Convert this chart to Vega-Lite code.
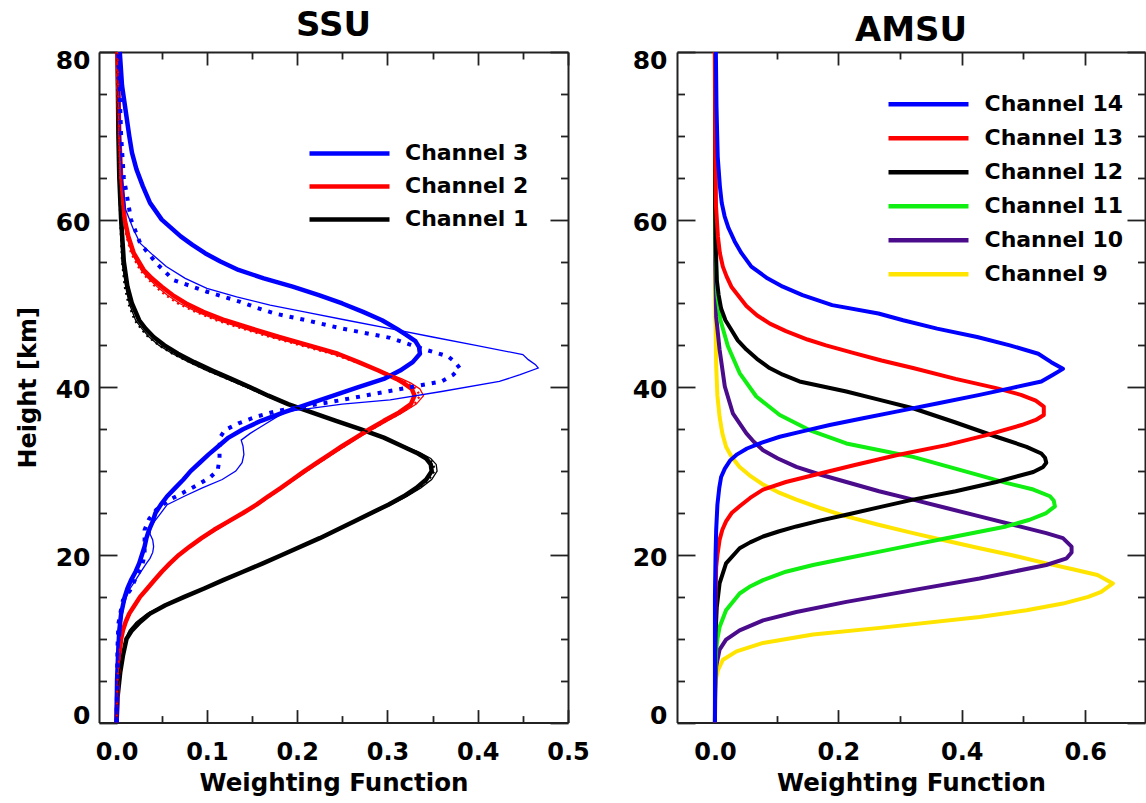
{
"$schema": "https://vega.github.io/schema/vega-lite/v6.json",
"background": "white",
"padding": {"left": 16, "top": 9, "right": 0, "bottom": 5},
"bounds": "flush",
"spacing": 109,
"datasets": {
"ssu": [
{"c":"Channel 1","k":"thick","H":0,"W":0},{"c":"Channel 1","k":"thick","H":3,"W":0.001},{"c":"Channel 1","k":"thick","H":6,"W":0.004},{"c":"Channel 1","k":"thick","H":8,"W":0.007},{"c":"Channel 1","k":"thick","H":10,"W":0.011},{"c":"Channel 1","k":"thick","H":11,"W":0.017},{"c":"Channel 1","k":"thick","H":12,"W":0.026},{"c":"Channel 1","k":"thick","H":13,"W":0.037},{"c":"Channel 1","k":"thick","H":14,"W":0.054},{"c":"Channel 1","k":"thick","H":15,"W":0.075},{"c":"Channel 1","k":"thick","H":16,"W":0.097},{"c":"Channel 1","k":"thick","H":17,"W":0.118},{"c":"Channel 1","k":"thick","H":18,"W":0.14},{"c":"Channel 1","k":"thick","H":19,"W":0.162},{"c":"Channel 1","k":"thick","H":20,"W":0.183},{"c":"Channel 1","k":"thick","H":22,"W":0.225},{"c":"Channel 1","k":"thick","H":24,"W":0.263},{"c":"Channel 1","k":"thick","H":26,"W":0.301},{"c":"Channel 1","k":"thick","H":27,"W":0.318},{"c":"Channel 1","k":"thick","H":28,"W":0.332},{"c":"Channel 1","k":"thick","H":29,"W":0.343},{"c":"Channel 1","k":"thick","H":30,"W":0.349},{"c":"Channel 1","k":"thick","H":30.8,"W":0.348},{"c":"Channel 1","k":"thick","H":31.5,"W":0.343},{"c":"Channel 1","k":"thick","H":32.2,"W":0.332},{"c":"Channel 1","k":"thick","H":33,"W":0.316},{"c":"Channel 1","k":"thick","H":34,"W":0.296},{"c":"Channel 1","k":"thick","H":35,"W":0.27},{"c":"Channel 1","k":"thick","H":36,"W":0.243},{"c":"Channel 1","k":"thick","H":37,"W":0.216},{"c":"Channel 1","k":"thick","H":38,"W":0.19},{"c":"Channel 1","k":"thick","H":39,"W":0.168},{"c":"Channel 1","k":"thick","H":40,"W":0.148},{"c":"Channel 1","k":"thick","H":41,"W":0.127},{"c":"Channel 1","k":"thick","H":42,"W":0.106},{"c":"Channel 1","k":"thick","H":43,"W":0.086},{"c":"Channel 1","k":"thick","H":44,"W":0.068},{"c":"Channel 1","k":"thick","H":45,"W":0.053},{"c":"Channel 1","k":"thick","H":46,"W":0.041},{"c":"Channel 1","k":"thick","H":47,"W":0.032},{"c":"Channel 1","k":"thick","H":48,"W":0.025},{"c":"Channel 1","k":"thick","H":50,"W":0.017},{"c":"Channel 1","k":"thick","H":52,"W":0.012},{"c":"Channel 1","k":"thick","H":55,"W":0.008},{"c":"Channel 1","k":"thick","H":60,"W":0.005},{"c":"Channel 1","k":"thick","H":65,"W":0.003},{"c":"Channel 1","k":"thick","H":70,"W":0.002},{"c":"Channel 1","k":"thick","H":80,"W":0.001},
{"c":"Channel 2","k":"thick","H":0,"W":0},{"c":"Channel 2","k":"thick","H":5,"W":0.001},{"c":"Channel 2","k":"thick","H":8,"W":0.003},{"c":"Channel 2","k":"thick","H":10,"W":0.005},{"c":"Channel 2","k":"thick","H":11,"W":0.007},{"c":"Channel 2","k":"thick","H":12,"W":0.01},{"c":"Channel 2","k":"thick","H":13,"W":0.014},{"c":"Channel 2","k":"thick","H":14,"W":0.02},{"c":"Channel 2","k":"thick","H":15,"W":0.026},{"c":"Channel 2","k":"thick","H":16,"W":0.034},{"c":"Channel 2","k":"thick","H":17,"W":0.042},{"c":"Channel 2","k":"thick","H":18,"W":0.05},{"c":"Channel 2","k":"thick","H":19,"W":0.059},{"c":"Channel 2","k":"thick","H":20,"W":0.069},{"c":"Channel 2","k":"thick","H":21,"W":0.081},{"c":"Channel 2","k":"thick","H":22,"W":0.094},{"c":"Channel 2","k":"thick","H":23,"W":0.108},{"c":"Channel 2","k":"thick","H":24,"W":0.124},{"c":"Channel 2","k":"thick","H":25,"W":0.14},{"c":"Channel 2","k":"thick","H":26,"W":0.155},{"c":"Channel 2","k":"thick","H":27,"W":0.168},{"c":"Channel 2","k":"thick","H":28,"W":0.182},{"c":"Channel 2","k":"thick","H":29,"W":0.195},{"c":"Channel 2","k":"thick","H":30,"W":0.208},{"c":"Channel 2","k":"thick","H":31,"W":0.222},{"c":"Channel 2","k":"thick","H":32,"W":0.236},{"c":"Channel 2","k":"thick","H":33,"W":0.25},{"c":"Channel 2","k":"thick","H":34,"W":0.265},{"c":"Channel 2","k":"thick","H":35,"W":0.28},{"c":"Channel 2","k":"thick","H":36,"W":0.296},{"c":"Channel 2","k":"thick","H":37,"W":0.313},{"c":"Channel 2","k":"thick","H":38,"W":0.326},{"c":"Channel 2","k":"thick","H":39,"W":0.33},{"c":"Channel 2","k":"thick","H":39.8,"W":0.327},{"c":"Channel 2","k":"thick","H":40.5,"W":0.318},{"c":"Channel 2","k":"thick","H":41,"W":0.31},{"c":"Channel 2","k":"thick","H":42,"W":0.29},{"c":"Channel 2","k":"thick","H":43,"W":0.268},{"c":"Channel 2","k":"thick","H":44,"W":0.245},{"c":"Channel 2","k":"thick","H":45,"W":0.213},{"c":"Channel 2","k":"thick","H":46,"W":0.18},{"c":"Channel 2","k":"thick","H":47,"W":0.15},{"c":"Channel 2","k":"thick","H":48,"W":0.12},{"c":"Channel 2","k":"thick","H":49,"W":0.096},{"c":"Channel 2","k":"thick","H":50,"W":0.077},{"c":"Channel 2","k":"thick","H":51,"W":0.062},{"c":"Channel 2","k":"thick","H":52,"W":0.05},{"c":"Channel 2","k":"thick","H":53,"W":0.039},{"c":"Channel 2","k":"thick","H":54,"W":0.03},{"c":"Channel 2","k":"thick","H":56,"W":0.019},{"c":"Channel 2","k":"thick","H":58,"W":0.013},{"c":"Channel 2","k":"thick","H":60,"W":0.009},{"c":"Channel 2","k":"thick","H":65,"W":0.005},{"c":"Channel 2","k":"thick","H":70,"W":0.003},{"c":"Channel 2","k":"thick","H":80,"W":0.001},
{"c":"Channel 3","k":"thick","H":0,"W":0},{"c":"Channel 3","k":"thick","H":5,"W":0.0005},{"c":"Channel 3","k":"thick","H":9,"W":0.002},{"c":"Channel 3","k":"thick","H":11,"W":0.003},{"c":"Channel 3","k":"thick","H":13,"W":0.005},{"c":"Channel 3","k":"thick","H":15,"W":0.009},{"c":"Channel 3","k":"thick","H":16,"W":0.012},{"c":"Channel 3","k":"thick","H":17,"W":0.016},{"c":"Channel 3","k":"thick","H":18,"W":0.021},{"c":"Channel 3","k":"thick","H":19,"W":0.025},{"c":"Channel 3","k":"thick","H":20,"W":0.028},{"c":"Channel 3","k":"thick","H":21,"W":0.031},{"c":"Channel 3","k":"thick","H":22,"W":0.033},{"c":"Channel 3","k":"thick","H":23,"W":0.036},{"c":"Channel 3","k":"thick","H":24,"W":0.04},{"c":"Channel 3","k":"thick","H":25,"W":0.043},{"c":"Channel 3","k":"thick","H":26,"W":0.049},{"c":"Channel 3","k":"thick","H":27,"W":0.056},{"c":"Channel 3","k":"thick","H":28,"W":0.065},{"c":"Channel 3","k":"thick","H":29,"W":0.074},{"c":"Channel 3","k":"thick","H":30,"W":0.082},{"c":"Channel 3","k":"thick","H":31,"W":0.092},{"c":"Channel 3","k":"thick","H":32,"W":0.102},{"c":"Channel 3","k":"thick","H":33,"W":0.113},{"c":"Channel 3","k":"thick","H":34,"W":0.124},{"c":"Channel 3","k":"thick","H":35,"W":0.14},{"c":"Channel 3","k":"thick","H":36,"W":0.16},{"c":"Channel 3","k":"thick","H":37,"W":0.185},{"c":"Channel 3","k":"thick","H":38,"W":0.212},{"c":"Channel 3","k":"thick","H":39,"W":0.24},{"c":"Channel 3","k":"thick","H":40,"W":0.267},{"c":"Channel 3","k":"thick","H":41,"W":0.296},{"c":"Channel 3","k":"thick","H":42,"W":0.314},{"c":"Channel 3","k":"thick","H":43,"W":0.328},{"c":"Channel 3","k":"thick","H":44,"W":0.336},{"c":"Channel 3","k":"thick","H":44.8,"W":0.335},{"c":"Channel 3","k":"thick","H":45.5,"W":0.331},{"c":"Channel 3","k":"thick","H":46.3,"W":0.32},{"c":"Channel 3","k":"thick","H":47,"W":0.31},{"c":"Channel 3","k":"thick","H":48,"W":0.294},{"c":"Channel 3","k":"thick","H":49,"W":0.273},{"c":"Channel 3","k":"thick","H":50,"W":0.25},{"c":"Channel 3","k":"thick","H":51,"W":0.224},{"c":"Channel 3","k":"thick","H":52,"W":0.195},{"c":"Channel 3","k":"thick","H":53,"W":0.163},{"c":"Channel 3","k":"thick","H":54,"W":0.135},{"c":"Channel 3","k":"thick","H":55,"W":0.115},{"c":"Channel 3","k":"thick","H":56,"W":0.098},{"c":"Channel 3","k":"thick","H":57,"W":0.084},{"c":"Channel 3","k":"thick","H":58,"W":0.071},{"c":"Channel 3","k":"thick","H":60,"W":0.05},{"c":"Channel 3","k":"thick","H":62,"W":0.037},{"c":"Channel 3","k":"thick","H":64,"W":0.029},{"c":"Channel 3","k":"thick","H":66,"W":0.022},{"c":"Channel 3","k":"thick","H":68,"W":0.017},{"c":"Channel 3","k":"thick","H":70,"W":0.014},{"c":"Channel 3","k":"thick","H":73,"W":0.01},{"c":"Channel 3","k":"thick","H":76,"W":0.006},{"c":"Channel 3","k":"thick","H":80,"W":0.0035},
{"c":"Channel 1","k":"thin","H":0,"W":0},{"c":"Channel 1","k":"thin","H":3,"W":0.001},{"c":"Channel 1","k":"thin","H":6,"W":0.003},{"c":"Channel 1","k":"thin","H":8,"W":0.006},{"c":"Channel 1","k":"thin","H":10,"W":0.01},{"c":"Channel 1","k":"thin","H":11,"W":0.014},{"c":"Channel 1","k":"thin","H":12,"W":0.022},{"c":"Channel 1","k":"thin","H":13,"W":0.034},{"c":"Channel 1","k":"thin","H":14,"W":0.052},{"c":"Channel 1","k":"thin","H":15,"W":0.074},{"c":"Channel 1","k":"thin","H":16,"W":0.096},{"c":"Channel 1","k":"thin","H":18,"W":0.14},{"c":"Channel 1","k":"thin","H":20,"W":0.184},{"c":"Channel 1","k":"thin","H":22,"W":0.226},{"c":"Channel 1","k":"thin","H":24,"W":0.265},{"c":"Channel 1","k":"thin","H":26,"W":0.304},{"c":"Channel 1","k":"thin","H":27,"W":0.322},{"c":"Channel 1","k":"thin","H":28,"W":0.337},{"c":"Channel 1","k":"thin","H":29,"W":0.349},{"c":"Channel 1","k":"thin","H":30,"W":0.355},{"c":"Channel 1","k":"thin","H":30.8,"W":0.354},{"c":"Channel 1","k":"thin","H":31.5,"W":0.348},{"c":"Channel 1","k":"thin","H":32.2,"W":0.336},{"c":"Channel 1","k":"thin","H":33,"W":0.318},{"c":"Channel 1","k":"thin","H":34,"W":0.296},{"c":"Channel 1","k":"thin","H":35,"W":0.27},{"c":"Channel 1","k":"thin","H":36,"W":0.242},{"c":"Channel 1","k":"thin","H":37,"W":0.214},{"c":"Channel 1","k":"thin","H":38,"W":0.188},{"c":"Channel 1","k":"thin","H":39,"W":0.165},{"c":"Channel 1","k":"thin","H":40,"W":0.144},{"c":"Channel 1","k":"thin","H":41,"W":0.122},{"c":"Channel 1","k":"thin","H":42,"W":0.1},{"c":"Channel 1","k":"thin","H":43,"W":0.08},{"c":"Channel 1","k":"thin","H":44,"W":0.062},{"c":"Channel 1","k":"thin","H":45,"W":0.047},{"c":"Channel 1","k":"thin","H":46,"W":0.036},{"c":"Channel 1","k":"thin","H":47,"W":0.028},{"c":"Channel 1","k":"thin","H":48,"W":0.021},{"c":"Channel 1","k":"thin","H":50,"W":0.014},{"c":"Channel 1","k":"thin","H":52,"W":0.01},{"c":"Channel 1","k":"thin","H":55,"W":0.006},{"c":"Channel 1","k":"thin","H":60,"W":0.004},{"c":"Channel 1","k":"thin","H":65,"W":0.002},{"c":"Channel 1","k":"thin","H":70,"W":0.0015},{"c":"Channel 1","k":"thin","H":80,"W":0.001},
{"c":"Channel 2","k":"thin","H":0,"W":0},{"c":"Channel 2","k":"thin","H":5,"W":0.001},{"c":"Channel 2","k":"thin","H":8,"W":0.003},{"c":"Channel 2","k":"thin","H":10,"W":0.005},{"c":"Channel 2","k":"thin","H":12,"W":0.01},{"c":"Channel 2","k":"thin","H":14,"W":0.02},{"c":"Channel 2","k":"thin","H":16,"W":0.034},{"c":"Channel 2","k":"thin","H":18,"W":0.051},{"c":"Channel 2","k":"thin","H":20,"W":0.07},{"c":"Channel 2","k":"thin","H":22,"W":0.096},{"c":"Channel 2","k":"thin","H":24,"W":0.126},{"c":"Channel 2","k":"thin","H":26,"W":0.157},{"c":"Channel 2","k":"thin","H":28,"W":0.184},{"c":"Channel 2","k":"thin","H":30,"W":0.211},{"c":"Channel 2","k":"thin","H":32,"W":0.239},{"c":"Channel 2","k":"thin","H":34,"W":0.268},{"c":"Channel 2","k":"thin","H":35,"W":0.284},{"c":"Channel 2","k":"thin","H":36,"W":0.3},{"c":"Channel 2","k":"thin","H":37,"W":0.317},{"c":"Channel 2","k":"thin","H":38,"W":0.332},{"c":"Channel 2","k":"thin","H":39,"W":0.34},{"c":"Channel 2","k":"thin","H":39.8,"W":0.336},{"c":"Channel 2","k":"thin","H":40.5,"W":0.326},{"c":"Channel 2","k":"thin","H":41,"W":0.316},{"c":"Channel 2","k":"thin","H":42,"W":0.292},{"c":"Channel 2","k":"thin","H":43,"W":0.267},{"c":"Channel 2","k":"thin","H":44,"W":0.24},{"c":"Channel 2","k":"thin","H":45,"W":0.206},{"c":"Channel 2","k":"thin","H":46,"W":0.172},{"c":"Channel 2","k":"thin","H":47,"W":0.141},{"c":"Channel 2","k":"thin","H":48,"W":0.112},{"c":"Channel 2","k":"thin","H":49,"W":0.089},{"c":"Channel 2","k":"thin","H":50,"W":0.07},{"c":"Channel 2","k":"thin","H":51,"W":0.056},{"c":"Channel 2","k":"thin","H":52,"W":0.045},{"c":"Channel 2","k":"thin","H":53,"W":0.035},{"c":"Channel 2","k":"thin","H":54,"W":0.027},{"c":"Channel 2","k":"thin","H":56,"W":0.017},{"c":"Channel 2","k":"thin","H":58,"W":0.011},{"c":"Channel 2","k":"thin","H":60,"W":0.008},{"c":"Channel 2","k":"thin","H":65,"W":0.004},{"c":"Channel 2","k":"thin","H":70,"W":0.0025},{"c":"Channel 2","k":"thin","H":80,"W":0.001},
{"c":"Channel 3","k":"thin","H":0,"W":0},{"c":"Channel 3","k":"thin","H":5,"W":0.0005},{"c":"Channel 3","k":"thin","H":9,"W":0.002},{"c":"Channel 3","k":"thin","H":12,"W":0.005},{"c":"Channel 3","k":"thin","H":14,"W":0.008},{"c":"Channel 3","k":"thin","H":15,"W":0.011},{"c":"Channel 3","k":"thin","H":16,"W":0.015},{"c":"Channel 3","k":"thin","H":17,"W":0.021},{"c":"Channel 3","k":"thin","H":18,"W":0.027},{"c":"Channel 3","k":"thin","H":19,"W":0.033},{"c":"Channel 3","k":"thin","H":19.6,"W":0.037},{"c":"Channel 3","k":"thin","H":20.3,"W":0.04},{"c":"Channel 3","k":"thin","H":21,"W":0.041},{"c":"Channel 3","k":"thin","H":21.8,"W":0.04},{"c":"Channel 3","k":"thin","H":22.5,"W":0.037},{"c":"Channel 3","k":"thin","H":23.3,"W":0.038},{"c":"Channel 3","k":"thin","H":24,"W":0.042},{"c":"Channel 3","k":"thin","H":25,"W":0.049},{"c":"Channel 3","k":"thin","H":26,"W":0.056},{"c":"Channel 3","k":"thin","H":27,"W":0.075},{"c":"Channel 3","k":"thin","H":28,"W":0.095},{"c":"Channel 3","k":"thin","H":29,"W":0.117},{"c":"Channel 3","k":"thin","H":30,"W":0.132},{"c":"Channel 3","k":"thin","H":31,"W":0.139},{"c":"Channel 3","k":"thin","H":32,"W":0.141},{"c":"Channel 3","k":"thin","H":33,"W":0.14},{"c":"Channel 3","k":"thin","H":33.7,"W":0.138},{"c":"Channel 3","k":"thin","H":34.5,"W":0.148},{"c":"Channel 3","k":"thin","H":35.5,"W":0.163},{"c":"Channel 3","k":"thin","H":36.5,"W":0.178},{"c":"Channel 3","k":"thin","H":37.1,"W":0.188},{"c":"Channel 3","k":"thin","H":38,"W":0.25},{"c":"Channel 3","k":"thin","H":38.5,"W":0.303},{"c":"Channel 3","k":"thin","H":39.5,"W":0.36},{"c":"Channel 3","k":"thin","H":40.7,"W":0.424},{"c":"Channel 3","k":"thin","H":41.5,"W":0.447},{"c":"Channel 3","k":"thin","H":42.3,"W":0.467},{"c":"Channel 3","k":"thin","H":42.7,"W":0.464},{"c":"Channel 3","k":"thin","H":43.3,"W":0.456},{"c":"Channel 3","k":"thin","H":43.9,"W":0.45},{"c":"Channel 3","k":"thin","H":45,"W":0.398},{"c":"Channel 3","k":"thin","H":46,"W":0.35},{"c":"Channel 3","k":"thin","H":47,"W":0.303},{"c":"Channel 3","k":"thin","H":48,"W":0.255},{"c":"Channel 3","k":"thin","H":49,"W":0.208},{"c":"Channel 3","k":"thin","H":49.8,"W":0.17},{"c":"Channel 3","k":"thin","H":50.8,"W":0.133},{"c":"Channel 3","k":"thin","H":51.8,"W":0.1},{"c":"Channel 3","k":"thin","H":53,"W":0.076},{"c":"Channel 3","k":"thin","H":54.4,"W":0.055},{"c":"Channel 3","k":"thin","H":55.8,"W":0.04},{"c":"Channel 3","k":"thin","H":57.2,"W":0.026},{"c":"Channel 3","k":"thin","H":59,"W":0.018},{"c":"Channel 3","k":"thin","H":61.2,"W":0.01},{"c":"Channel 3","k":"thin","H":65,"W":0.006},{"c":"Channel 3","k":"thin","H":70,"W":0.004},{"c":"Channel 3","k":"thin","H":80,"W":0.0025},
{"c":"Channel 1","k":"dotted","H":0,"W":0},{"c":"Channel 1","k":"dotted","H":5,"W":0.002},{"c":"Channel 1","k":"dotted","H":8,"W":0.006},{"c":"Channel 1","k":"dotted","H":10,"W":0.01},{"c":"Channel 1","k":"dotted","H":11,"W":0.015},{"c":"Channel 1","k":"dotted","H":12,"W":0.023},{"c":"Channel 1","k":"dotted","H":13,"W":0.035},{"c":"Channel 1","k":"dotted","H":14,"W":0.053},{"c":"Channel 1","k":"dotted","H":15,"W":0.074},{"c":"Channel 1","k":"dotted","H":16,"W":0.096},{"c":"Channel 1","k":"dotted","H":18,"W":0.14},{"c":"Channel 1","k":"dotted","H":20,"W":0.183},{"c":"Channel 1","k":"dotted","H":22,"W":0.225},{"c":"Channel 1","k":"dotted","H":24,"W":0.264},{"c":"Channel 1","k":"dotted","H":26,"W":0.302},{"c":"Channel 1","k":"dotted","H":27,"W":0.32},{"c":"Channel 1","k":"dotted","H":28,"W":0.335},{"c":"Channel 1","k":"dotted","H":29,"W":0.346},{"c":"Channel 1","k":"dotted","H":30,"W":0.352},{"c":"Channel 1","k":"dotted","H":30.8,"W":0.351},{"c":"Channel 1","k":"dotted","H":31.5,"W":0.346},{"c":"Channel 1","k":"dotted","H":32.2,"W":0.334},{"c":"Channel 1","k":"dotted","H":33,"W":0.317},{"c":"Channel 1","k":"dotted","H":34,"W":0.296},{"c":"Channel 1","k":"dotted","H":35,"W":0.27},{"c":"Channel 1","k":"dotted","H":36,"W":0.242},{"c":"Channel 1","k":"dotted","H":37,"W":0.215},{"c":"Channel 1","k":"dotted","H":38,"W":0.189},{"c":"Channel 1","k":"dotted","H":39,"W":0.166},{"c":"Channel 1","k":"dotted","H":40,"W":0.145},{"c":"Channel 1","k":"dotted","H":41,"W":0.123},{"c":"Channel 1","k":"dotted","H":42,"W":0.101},{"c":"Channel 1","k":"dotted","H":43,"W":0.081},{"c":"Channel 1","k":"dotted","H":44,"W":0.062},{"c":"Channel 1","k":"dotted","H":45,"W":0.047},{"c":"Channel 1","k":"dotted","H":46,"W":0.035},{"c":"Channel 1","k":"dotted","H":47,"W":0.027},{"c":"Channel 1","k":"dotted","H":48,"W":0.02},{"c":"Channel 1","k":"dotted","H":50,"W":0.013},{"c":"Channel 1","k":"dotted","H":52,"W":0.009},{"c":"Channel 1","k":"dotted","H":55,"W":0.006},{"c":"Channel 1","k":"dotted","H":60,"W":0.004},{"c":"Channel 1","k":"dotted","H":70,"W":0.0015},{"c":"Channel 1","k":"dotted","H":80,"W":0.001},
{"c":"Channel 2","k":"dotted","H":0,"W":0},{"c":"Channel 2","k":"dotted","H":5,"W":0.001},{"c":"Channel 2","k":"dotted","H":8,"W":0.003},{"c":"Channel 2","k":"dotted","H":10,"W":0.005},{"c":"Channel 2","k":"dotted","H":12,"W":0.01},{"c":"Channel 2","k":"dotted","H":14,"W":0.02},{"c":"Channel 2","k":"dotted","H":16,"W":0.034},{"c":"Channel 2","k":"dotted","H":18,"W":0.05},{"c":"Channel 2","k":"dotted","H":20,"W":0.069},{"c":"Channel 2","k":"dotted","H":22,"W":0.095},{"c":"Channel 2","k":"dotted","H":24,"W":0.125},{"c":"Channel 2","k":"dotted","H":26,"W":0.156},{"c":"Channel 2","k":"dotted","H":28,"W":0.183},{"c":"Channel 2","k":"dotted","H":30,"W":0.21},{"c":"Channel 2","k":"dotted","H":32,"W":0.238},{"c":"Channel 2","k":"dotted","H":34,"W":0.267},{"c":"Channel 2","k":"dotted","H":35,"W":0.283},{"c":"Channel 2","k":"dotted","H":36,"W":0.299},{"c":"Channel 2","k":"dotted","H":37,"W":0.316},{"c":"Channel 2","k":"dotted","H":38,"W":0.33},{"c":"Channel 2","k":"dotted","H":39,"W":0.336},{"c":"Channel 2","k":"dotted","H":39.8,"W":0.332},{"c":"Channel 2","k":"dotted","H":40.5,"W":0.322},{"c":"Channel 2","k":"dotted","H":41,"W":0.313},{"c":"Channel 2","k":"dotted","H":42,"W":0.29},{"c":"Channel 2","k":"dotted","H":43,"W":0.265},{"c":"Channel 2","k":"dotted","H":44,"W":0.238},{"c":"Channel 2","k":"dotted","H":45,"W":0.204},{"c":"Channel 2","k":"dotted","H":46,"W":0.17},{"c":"Channel 2","k":"dotted","H":47,"W":0.139},{"c":"Channel 2","k":"dotted","H":48,"W":0.11},{"c":"Channel 2","k":"dotted","H":49,"W":0.087},{"c":"Channel 2","k":"dotted","H":50,"W":0.068},{"c":"Channel 2","k":"dotted","H":51,"W":0.054},{"c":"Channel 2","k":"dotted","H":52,"W":0.043},{"c":"Channel 2","k":"dotted","H":53,"W":0.034},{"c":"Channel 2","k":"dotted","H":54,"W":0.026},{"c":"Channel 2","k":"dotted","H":56,"W":0.016},{"c":"Channel 2","k":"dotted","H":58,"W":0.011},{"c":"Channel 2","k":"dotted","H":60,"W":0.008},{"c":"Channel 2","k":"dotted","H":65,"W":0.004},{"c":"Channel 2","k":"dotted","H":70,"W":0.0025},{"c":"Channel 2","k":"dotted","H":80,"W":0.001},
{"c":"Channel 3","k":"dotted","H":0,"W":0},{"c":"Channel 3","k":"dotted","H":5,"W":0.0005},{"c":"Channel 3","k":"dotted","H":9,"W":0.001},{"c":"Channel 3","k":"dotted","H":11.8,"W":0.002},{"c":"Channel 3","k":"dotted","H":13,"W":0.004},{"c":"Channel 3","k":"dotted","H":14.6,"W":0.007},{"c":"Channel 3","k":"dotted","H":15.8,"W":0.015},{"c":"Channel 3","k":"dotted","H":17.4,"W":0.022},{"c":"Channel 3","k":"dotted","H":18.6,"W":0.028},{"c":"Channel 3","k":"dotted","H":20,"W":0.031},{"c":"Channel 3","k":"dotted","H":21.5,"W":0.031},{"c":"Channel 3","k":"dotted","H":23,"W":0.031},{"c":"Channel 3","k":"dotted","H":24.3,"W":0.036},{"c":"Channel 3","k":"dotted","H":25.4,"W":0.044},{"c":"Channel 3","k":"dotted","H":26.6,"W":0.059},{"c":"Channel 3","k":"dotted","H":27.5,"W":0.075},{"c":"Channel 3","k":"dotted","H":28.5,"W":0.092},{"c":"Channel 3","k":"dotted","H":29.3,"W":0.104},{"c":"Channel 3","k":"dotted","H":30.1,"W":0.112},{"c":"Channel 3","k":"dotted","H":31.5,"W":0.114},{"c":"Channel 3","k":"dotted","H":33,"W":0.114},{"c":"Channel 3","k":"dotted","H":34.1,"W":0.115},{"c":"Channel 3","k":"dotted","H":34.9,"W":0.12},{"c":"Channel 3","k":"dotted","H":35.7,"W":0.135},{"c":"Channel 3","k":"dotted","H":36.5,"W":0.155},{"c":"Channel 3","k":"dotted","H":37.1,"W":0.175},{"c":"Channel 3","k":"dotted","H":37.5,"W":0.195},{"c":"Channel 3","k":"dotted","H":38.3,"W":0.24},{"c":"Channel 3","k":"dotted","H":39,"W":0.275},{"c":"Channel 3","k":"dotted","H":39.7,"W":0.31},{"c":"Channel 3","k":"dotted","H":40.2,"W":0.335},{"c":"Channel 3","k":"dotted","H":40.7,"W":0.36},{"c":"Channel 3","k":"dotted","H":41.5,"W":0.373},{"c":"Channel 3","k":"dotted","H":42.3,"W":0.38},{"c":"Channel 3","k":"dotted","H":43,"W":0.375},{"c":"Channel 3","k":"dotted","H":43.7,"W":0.367},{"c":"Channel 3","k":"dotted","H":44.4,"W":0.345},{"c":"Channel 3","k":"dotted","H":45.1,"W":0.325},{"c":"Channel 3","k":"dotted","H":45.9,"W":0.303},{"c":"Channel 3","k":"dotted","H":47,"W":0.25},{"c":"Channel 3","k":"dotted","H":48,"W":0.21},{"c":"Channel 3","k":"dotted","H":48.8,"W":0.175},{"c":"Channel 3","k":"dotted","H":49.5,"W":0.155},{"c":"Channel 3","k":"dotted","H":50.2,"W":0.137},{"c":"Channel 3","k":"dotted","H":51.4,"W":0.1},{"c":"Channel 3","k":"dotted","H":52.8,"W":0.063},{"c":"Channel 3","k":"dotted","H":54.8,"W":0.044},{"c":"Channel 3","k":"dotted","H":57.2,"W":0.026},{"c":"Channel 3","k":"dotted","H":60,"W":0.016},{"c":"Channel 3","k":"dotted","H":65,"W":0.008},{"c":"Channel 3","k":"dotted","H":70,"W":0.005},{"c":"Channel 3","k":"dotted","H":80,"W":0.002}
],
"amsu": [
{"c":"Channel 9","H":0,"W":0},{"c":"Channel 9","H":4,"W":0.0005},{"c":"Channel 9","H":5.3,"W":0.002},{"c":"Channel 9","H":6.3,"W":0.005},{"c":"Channel 9","H":7.5,"W":0.013},{"c":"Channel 9","H":8.5,"W":0.035},{"c":"Channel 9","H":9.5,"W":0.078},{"c":"Channel 9","H":10.5,"W":0.159},{"c":"Channel 9","H":11.3,"W":0.267},{"c":"Channel 9","H":12.6,"W":0.429},{"c":"Channel 9","H":13.4,"W":0.505},{"c":"Channel 9","H":14.2,"W":0.564},{"c":"Channel 9","H":15,"W":0.605},{"c":"Channel 9","H":15.6,"W":0.626},{"c":"Channel 9","H":16.6,"W":0.645},{"c":"Channel 9","H":17.6,"W":0.62},{"c":"Channel 9","H":18.3,"W":0.58},{"c":"Channel 9","H":19,"W":0.537},{"c":"Channel 9","H":20,"W":0.48},{"c":"Channel 9","H":20.8,"W":0.429},{"c":"Channel 9","H":21.7,"W":0.375},{"c":"Channel 9","H":22.6,"W":0.321},{"c":"Channel 9","H":23.6,"W":0.265},{"c":"Channel 9","H":24.6,"W":0.213},{"c":"Channel 9","H":25.6,"W":0.17},{"c":"Channel 9","H":26.6,"W":0.132},{"c":"Channel 9","H":27.5,"W":0.102},{"c":"Channel 9","H":28.4,"W":0.078},{"c":"Channel 9","H":29.5,"W":0.056},{"c":"Channel 9","H":30.5,"W":0.04},{"c":"Channel 9","H":31.7,"W":0.027},{"c":"Channel 9","H":32.9,"W":0.018},{"c":"Channel 9","H":34.5,"W":0.012},{"c":"Channel 9","H":36.5,"W":0.0075},{"c":"Channel 9","H":39,"W":0.004},{"c":"Channel 9","H":42.5,"W":0.002},{"c":"Channel 9","H":50,"W":0.0005},{"c":"Channel 9","H":60,"W":0},{"c":"Channel 9","H":80,"W":0},
{"c":"Channel 10","H":0,"W":0},{"c":"Channel 10","H":2.7,"W":0.0003},{"c":"Channel 10","H":5,"W":0.001},{"c":"Channel 10","H":6.7,"W":0.002},{"c":"Channel 10","H":8.7,"W":0.0075},{"c":"Channel 10","H":9.9,"W":0.018},{"c":"Channel 10","H":11,"W":0.04},{"c":"Channel 10","H":12.2,"W":0.078},{"c":"Channel 10","H":13.2,"W":0.132},{"c":"Channel 10","H":14.4,"W":0.213},{"c":"Channel 10","H":15.8,"W":0.321},{"c":"Channel 10","H":17.2,"W":0.429},{"c":"Channel 10","H":18.8,"W":0.537},{"c":"Channel 10","H":19.6,"W":0.57},{"c":"Channel 10","H":20.3,"W":0.578},{"c":"Channel 10","H":21,"W":0.578},{"c":"Channel 10","H":22,"W":0.564},{"c":"Channel 10","H":22.6,"W":0.537},{"c":"Channel 10","H":23.6,"W":0.483},{"c":"Channel 10","H":24.6,"W":0.429},{"c":"Channel 10","H":25.6,"W":0.375},{"c":"Channel 10","H":26.6,"W":0.321},{"c":"Channel 10","H":27.6,"W":0.266},{"c":"Channel 10","H":28.7,"W":0.213},{"c":"Channel 10","H":29.6,"W":0.17},{"c":"Channel 10","H":30.5,"W":0.132},{"c":"Channel 10","H":31.5,"W":0.102},{"c":"Channel 10","H":32.5,"W":0.078},{"c":"Channel 10","H":33.5,"W":0.063},{"c":"Channel 10","H":34.5,"W":0.051},{"c":"Channel 10","H":36.9,"W":0.029},{"c":"Channel 10","H":40.1,"W":0.016},{"c":"Channel 10","H":44.5,"W":0.0075},{"c":"Channel 10","H":48.4,"W":0.002},{"c":"Channel 10","H":55,"W":0.0005},{"c":"Channel 10","H":80,"W":0},
{"c":"Channel 11","H":0,"W":0},{"c":"Channel 11","H":4.7,"W":0.0003},{"c":"Channel 11","H":7,"W":0.001},{"c":"Channel 11","H":8.7,"W":0.002},{"c":"Channel 11","H":10,"W":0.004},{"c":"Channel 11","H":11.4,"W":0.0075},{"c":"Channel 11","H":13.4,"W":0.018},{"c":"Channel 11","H":15.4,"W":0.04},{"c":"Channel 11","H":16.2,"W":0.056},{"c":"Channel 11","H":17,"W":0.078},{"c":"Channel 11","H":18,"W":0.115},{"c":"Channel 11","H":18.8,"W":0.159},{"c":"Channel 11","H":19.6,"W":0.213},{"c":"Channel 11","H":20.4,"W":0.267},{"c":"Channel 11","H":21.2,"W":0.321},{"c":"Channel 11","H":22,"W":0.375},{"c":"Channel 11","H":23.4,"W":0.472},{"c":"Channel 11","H":24.2,"W":0.51},{"c":"Channel 11","H":25,"W":0.537},{"c":"Channel 11","H":25.8,"W":0.551},{"c":"Channel 11","H":26.5,"W":0.549},{"c":"Channel 11","H":27,"W":0.543},{"c":"Channel 11","H":27.8,"W":0.516},{"c":"Channel 11","H":28.6,"W":0.472},{"c":"Channel 11","H":29.5,"W":0.429},{"c":"Channel 11","H":30.6,"W":0.375},{"c":"Channel 11","H":31.7,"W":0.321},{"c":"Channel 11","H":32.5,"W":0.267},{"c":"Channel 11","H":33.3,"W":0.213},{"c":"Channel 11","H":34.9,"W":0.153},{"c":"Channel 11","H":36.7,"W":0.105},{"c":"Channel 11","H":38.9,"W":0.067},{"c":"Channel 11","H":41.7,"W":0.04},{"c":"Channel 11","H":44.9,"W":0.021},{"c":"Channel 11","H":48,"W":0.009},{"c":"Channel 11","H":51,"W":0.004},{"c":"Channel 11","H":55,"W":0.0015},{"c":"Channel 11","H":60,"W":0.0005},{"c":"Channel 11","H":80,"W":0},
{"c":"Channel 12","H":0,"W":0},{"c":"Channel 12","H":8,"W":0.0003},{"c":"Channel 12","H":10.7,"W":0.001},{"c":"Channel 12","H":13.8,"W":0.003},{"c":"Channel 12","H":16.6,"W":0.0075},{"c":"Channel 12","H":19,"W":0.018},{"c":"Channel 12","H":20.8,"W":0.04},{"c":"Channel 12","H":21.5,"W":0.057},{"c":"Channel 12","H":22.2,"W":0.078},{"c":"Channel 12","H":22.8,"W":0.103},{"c":"Channel 12","H":23.4,"W":0.132},{"c":"Channel 12","H":24.1,"W":0.17},{"c":"Channel 12","H":24.8,"W":0.213},{"c":"Channel 12","H":25.7,"W":0.267},{"c":"Channel 12","H":26.6,"W":0.321},{"c":"Channel 12","H":27.6,"W":0.39},{"c":"Channel 12","H":28.7,"W":0.456},{"c":"Channel 12","H":29.9,"W":0.516},{"c":"Channel 12","H":30.5,"W":0.532},{"c":"Channel 12","H":31,"W":0.537},{"c":"Channel 12","H":31.6,"W":0.535},{"c":"Channel 12","H":32.1,"W":0.529},{"c":"Channel 12","H":32.9,"W":0.505},{"c":"Channel 12","H":34.1,"W":0.456},{"c":"Channel 12","H":35.8,"W":0.39},{"c":"Channel 12","H":37.5,"W":0.321},{"c":"Channel 12","H":38.5,"W":0.267},{"c":"Channel 12","H":39.5,"W":0.213},{"c":"Channel 12","H":40.1,"W":0.175},{"c":"Channel 12","H":40.7,"W":0.137},{"c":"Channel 12","H":41.5,"W":0.11},{"c":"Channel 12","H":42.3,"W":0.0885},{"c":"Channel 12","H":43.4,"W":0.068},{"c":"Channel 12","H":44.5,"W":0.051},{"c":"Channel 12","H":45.6,"W":0.037},{"c":"Channel 12","H":46.8,"W":0.027},{"c":"Channel 12","H":48,"W":0.017},{"c":"Channel 12","H":49.4,"W":0.01},{"c":"Channel 12","H":51,"W":0.006},{"c":"Channel 12","H":52.8,"W":0.003},{"c":"Channel 12","H":57.6,"W":0.0011},{"c":"Channel 12","H":61.6,"W":0.0003},{"c":"Channel 12","H":80,"W":0},
{"c":"Channel 13","H":0,"W":0},{"c":"Channel 13","H":12,"W":0.0003},{"c":"Channel 13","H":15,"W":0.001},{"c":"Channel 13","H":18.6,"W":0.002},{"c":"Channel 13","H":20,"W":0.004},{"c":"Channel 13","H":21.8,"W":0.0075},{"c":"Channel 13","H":23,"W":0.012},{"c":"Channel 13","H":24,"W":0.018},{"c":"Channel 13","H":25,"W":0.027},{"c":"Channel 13","H":25.8,"W":0.04},{"c":"Channel 13","H":26.8,"W":0.057},{"c":"Channel 13","H":27.8,"W":0.078},{"c":"Channel 13","H":28.7,"W":0.115},{"c":"Channel 13","H":29.5,"W":0.159},{"c":"Channel 13","H":30.7,"W":0.225},{"c":"Channel 13","H":31.9,"W":0.294},{"c":"Channel 13","H":33.1,"W":0.375},{"c":"Channel 13","H":34.3,"W":0.44},{"c":"Channel 13","H":35.5,"W":0.497},{"c":"Channel 13","H":36.1,"W":0.52},{"c":"Channel 13","H":36.7,"W":0.533},{"c":"Channel 13","H":37.7,"W":0.533},{"c":"Channel 13","H":38.4,"W":0.52},{"c":"Channel 13","H":39.1,"W":0.496},{"c":"Channel 13","H":39.9,"W":0.456},{"c":"Channel 13","H":41,"W":0.39},{"c":"Channel 13","H":42.3,"W":0.321},{"c":"Channel 13","H":43.2,"W":0.27},{"c":"Channel 13","H":44.1,"W":0.224},{"c":"Channel 13","H":45,"W":0.18},{"c":"Channel 13","H":45.7,"W":0.15},{"c":"Channel 13","H":46.7,"W":0.115},{"c":"Channel 13","H":47.6,"W":0.089},{"c":"Channel 13","H":48.6,"W":0.068},{"c":"Channel 13","H":49.7,"W":0.051},{"c":"Channel 13","H":51,"W":0.037},{"c":"Channel 13","H":52,"W":0.0266},{"c":"Channel 13","H":53.2,"W":0.019},{"c":"Channel 13","H":54.4,"W":0.0128},{"c":"Channel 13","H":56,"W":0.008},{"c":"Channel 13","H":58,"W":0.0048},{"c":"Channel 13","H":61.6,"W":0.0017},{"c":"Channel 13","H":67.5,"W":0.0005},{"c":"Channel 13","H":80,"W":0},
{"c":"Channel 14","H":0,"W":0},{"c":"Channel 14","H":15,"W":0},{"c":"Channel 14","H":20,"W":0.001},{"c":"Channel 14","H":23,"W":0.002},{"c":"Channel 14","H":26,"W":0.004},{"c":"Channel 14","H":28,"W":0.007},{"c":"Channel 14","H":29.3,"W":0.01},{"c":"Channel 14","H":30.3,"W":0.016},{"c":"Channel 14","H":31.3,"W":0.025},{"c":"Channel 14","H":32,"W":0.036},{"c":"Channel 14","H":32.7,"W":0.052},{"c":"Channel 14","H":33.4,"W":0.076},{"c":"Channel 14","H":34.1,"W":0.105},{"c":"Channel 14","H":34.8,"W":0.145},{"c":"Channel 14","H":35.5,"W":0.186},{"c":"Channel 14","H":36.3,"W":0.24},{"c":"Channel 14","H":37.1,"W":0.294},{"c":"Channel 14","H":38.1,"W":0.362},{"c":"Channel 14","H":39.1,"W":0.429},{"c":"Channel 14","H":39.9,"W":0.48},{"c":"Channel 14","H":40.7,"W":0.529},{"c":"Channel 14","H":41.5,"W":0.548},{"c":"Channel 14","H":42.2,"W":0.564},{"c":"Channel 14","H":43,"W":0.545},{"c":"Channel 14","H":44,"W":0.524},{"c":"Channel 14","H":45,"W":0.478},{"c":"Channel 14","H":46,"W":0.425},{"c":"Channel 14","H":47,"W":0.36},{"c":"Channel 14","H":48,"W":0.305},{"c":"Channel 14","H":48.8,"W":0.265},{"c":"Channel 14","H":49.8,"W":0.19},{"c":"Channel 14","H":51,"W":0.142},{"c":"Channel 14","H":52,"W":0.11},{"c":"Channel 14","H":53,"W":0.085},{"c":"Channel 14","H":54.4,"W":0.059},{"c":"Channel 14","H":56,"W":0.043},{"c":"Channel 14","H":57.4,"W":0.032},{"c":"Channel 14","H":59,"W":0.022},{"c":"Channel 14","H":60.4,"W":0.0157},{"c":"Channel 14","H":62,"W":0.011},{"c":"Channel 14","H":64,"W":0.008},{"c":"Channel 14","H":67.5,"W":0.0045},{"c":"Channel 14","H":73.5,"W":0.0025},{"c":"Channel 14","H":80,"W":0.0015}
]
},
"hconcat": [
{
"width": 469, "height": 670.6,
"title": {"text": "SSU", "font": "DejaVu Sans", "fontSize": 34, "fontWeight": "bold", "color": "#000", "offset": -26, "baseline": "alphabetic", "frame": "group", "anchor": "middle"},
"layer": [
{
"data": {"name": "ssu"},
"transform": [{"filter": "datum.k == 'thick'"}],
"mark": {"type": "line", "strokeWidth": 4.5, "strokeJoin": "round"},
"encoding": {
"x": {"field": "W", "type": "quantitative", "scale": {"domain": [-0.0195, 0.5], "nice": false, "zero": false},
 "axis": {"orient": "bottom", "values": [0, 0.1, 0.2, 0.3, 0.4, 0.5], "format": ".1f", "ticks": false, "domain": true, "labelFontSize": 24, "labelPadding": 37, "labelBaseline": "alphabetic", "title": "Weighting Function", "titleFontSize": 24.5, "titleX": 234.5, "titleY": 68, "titleBaseline": "alphabetic", "titleAlign": "center"}},
"y": {"field": "H", "type": "quantitative", "scale": {"domain": [0, 80], "nice": false, "zero": false},
 "axis": {"orient": "left", "values": [0, 20, 40, 60, 80], "ticks": false, "domain": true, "labelFontSize": 25, "labelPadding": 9, "labelOffset": {"condition": [{"test": "datum.value == 80", "value": 8.8}, {"test": "datum.value == 0", "value": -6.8}], "value": 2.5}, "title": "Height [km]", "titleFontSize": 24, "titleX": -64, "titleY": 335.3, "titleAngle": -90, "titleBaseline": "alphabetic", "titleAlign": "center"}},
"color": {"field": "c", "type": "nominal", "scale": {"domain": ["Channel 3", "Channel 2", "Channel 1"], "range": ["#0000ff", "#ff0000", "#000000"]},
 "legend": {"orient": "none", "legendX": 208, "legendY": 85, "title": null, "symbolType": "stroke", "symbolSize": 6400, "symbolStrokeWidth": 4.5, "clipHeight": 33, "rowPadding": 0, "padding": 0, "labelFont": "DejaVu Sans", "labelFontWeight": "bold", "labelFontSize": 22, "labelColor": "#000", "labelOffset": 13, "labelLimit": 300}},
"order": {"field": "H", "type": "quantitative"}
}
},
{
"data": {"name": "ssu"},
"transform": [{"filter": "datum.k == 'thin'"}],
"mark": {"type": "line", "strokeWidth": 1.3},
"encoding": {
"x": {"field": "W", "type": "quantitative", "scale": {"domain": [-0.0195, 0.5], "nice": false, "zero": false},
 "axis": {"orient": "bottom", "values": [0, 0.1, 0.2, 0.3, 0.4, 0.5], "labels": false, "domain": false, "tickSize": -13, "title": null}},
"y": {"field": "H", "type": "quantitative", "scale": {"domain": [0, 80], "nice": false, "zero": false},
 "axis": {"orient": "left", "values": [0, 20, 40, 60, 80], "labels": false, "domain": false, "tickSize": -18, "title": null}},
"color": {"field": "c", "type": "nominal", "legend": null},
"order": {"field": "H", "type": "quantitative"}
}
},
{
"data": {"name": "ssu"},
"transform": [{"filter": "datum.k == 'dotted' && datum.c != 'Channel 3'"}],
"mark": {"type": "line", "strokeWidth": 2.2, "strokeDash": [2, 4]},
"encoding": {
"x": {"field": "W", "type": "quantitative", "scale": {"domain": [-0.0195, 0.5], "nice": false, "zero": false},
 "axis": {"orient": "bottom", "values": [0.05, 0.15, 0.25, 0.35, 0.45], "labels": false, "domain": false, "tickSize": -7, "title": null}},
"y": {"field": "H", "type": "quantitative", "scale": {"domain": [0, 80], "nice": false, "zero": false},
 "axis": {"orient": "left", "values": [5, 10, 15, 25, 30, 35, 45, 50, 55, 65, 70, 75], "labels": false, "domain": false, "tickSize": -7.5, "title": null}},
"color": {"field": "c", "type": "nominal", "legend": null},
"order": {"field": "H", "type": "quantitative"}
}
},
{
"data": {"name": "ssu"},
"transform": [{"filter": "datum.k == 'dotted' && datum.c == 'Channel 3'"}],
"mark": {"type": "line", "strokeWidth": 4, "strokeDash": [4, 7]},
"encoding": {
"x": {"field": "W", "type": "quantitative", "scale": {"domain": [-0.0195, 0.5], "nice": false, "zero": false},
 "axis": {"orient": "top", "values": [0, 0.1, 0.2, 0.3, 0.4, 0.5], "labels": false, "domain": true, "tickSize": -13, "title": null}},
"y": {"field": "H", "type": "quantitative", "scale": {"domain": [0, 80], "nice": false, "zero": false},
 "axis": {"orient": "right", "values": [0, 20, 40, 60, 80], "labels": false, "domain": true, "tickSize": -18, "title": null}},
"color": {"field": "c", "type": "nominal", "legend": null},
"order": {"field": "H", "type": "quantitative"}
}
},
{
"data": {"name": "ssu"},
"mark": {"type": "point", "opacity": 0},
"encoding": {
"x": {"field": "W", "type": "quantitative", "scale": {"domain": [-0.0195, 0.5], "nice": false, "zero": false},
 "axis": {"orient": "top", "values": [0.05, 0.15, 0.25, 0.35, 0.45], "labels": false, "domain": false, "tickSize": -7, "title": null}},
"y": {"field": "H", "type": "quantitative", "scale": {"domain": [0, 80], "nice": false, "zero": false},
 "axis": {"orient": "right", "values": [5, 10, 15, 25, 30, 35, 45, 50, 55, 65, 70, 75], "labels": false, "domain": false, "tickSize": -7.5, "title": null}}
}
}
],
"resolve": {"axis": {"x": "independent", "y": "independent"}}
},
{
"width": 468, "height": 670.6,
"title": {"text": "AMSU", "font": "DejaVu Sans", "fontSize": 34, "fontWeight": "bold", "color": "#000", "offset": -26, "baseline": "alphabetic", "frame": "group", "anchor": "middle"},
"layer": [
{
"data": {"name": "amsu"},
"mark": {"type": "line", "strokeWidth": 4, "strokeJoin": "round"},
"encoding": {
"x": {"field": "W", "type": "quantitative", "scale": {"domain": [-0.0615, 0.697], "nice": false, "zero": false},
 "axis": {"orient": "bottom", "values": [0, 0.2, 0.4, 0.6], "format": ".1f", "ticks": false, "domain": true, "labelFontSize": 24, "labelPadding": 37, "labelBaseline": "alphabetic", "title": "Weighting Function", "titleFontSize": 24.5, "titleX": 234, "titleY": 68, "titleBaseline": "alphabetic", "titleAlign": "center"}},
"y": {"field": "H", "type": "quantitative", "scale": {"domain": [0, 80], "nice": false, "zero": false},
 "axis": {"orient": "left", "values": [0, 20, 40, 60, 80], "ticks": false, "domain": true, "labelFontSize": 25, "labelPadding": 10, "labelOffset": {"condition": [{"test": "datum.value == 80", "value": 8.8}, {"test": "datum.value == 0", "value": -6.8}], "value": 2.5}, "title": null}},
"color": {"field": "c", "type": "nominal", "scale": {"domain": ["Channel 14", "Channel 13", "Channel 12", "Channel 11", "Channel 10", "Channel 9"], "range": ["#0000ff", "#ff0000", "#000000", "#11ee11", "#4b0c8c", "#ffe400"]},
 "legend": {"orient": "none", "legendX": 209, "legendY": 35.5, "title": null, "symbolType": "stroke", "symbolSize": 6400, "symbolStrokeWidth": 4.5, "clipHeight": 33.6, "rowPadding": 0, "padding": 0, "labelFont": "DejaVu Sans", "labelFontWeight": "bold", "labelFontSize": 22, "labelColor": "#000", "labelOffset": 13.5, "labelLimit": 300}},
"order": {"field": "H", "type": "quantitative"}
}
},
{
"data": {"name": "amsu"},
"mark": {"type": "point", "opacity": 0},
"encoding": {
"x": {"field": "W", "type": "quantitative", "scale": {"domain": [-0.0615, 0.697], "nice": false, "zero": false},
 "axis": {"orient": "bottom", "values": [0, 0.2, 0.4, 0.6], "labels": false, "domain": false, "tickSize": -13, "title": null}},
"y": {"field": "H", "type": "quantitative", "scale": {"domain": [0, 80], "nice": false, "zero": false},
 "axis": {"orient": "left", "values": [0, 20, 40, 60, 80], "labels": false, "domain": false, "tickSize": -18, "title": null}}
}
},
{
"data": {"name": "amsu"},
"mark": {"type": "point", "opacity": 0},
"encoding": {
"x": {"field": "W", "type": "quantitative", "scale": {"domain": [-0.0615, 0.697], "nice": false, "zero": false},
 "axis": {"orient": "bottom", "values": [0.1, 0.3, 0.5], "labels": false, "domain": false, "tickSize": -7, "title": null}},
"y": {"field": "H", "type": "quantitative", "scale": {"domain": [0, 80], "nice": false, "zero": false},
 "axis": {"orient": "left", "values": [5, 10, 15, 25, 30, 35, 45, 50, 55, 65, 70, 75], "labels": false, "domain": false, "tickSize": -7.5, "title": null}}
}
},
{
"data": {"name": "amsu"},
"mark": {"type": "point", "opacity": 0},
"encoding": {
"x": {"field": "W", "type": "quantitative", "scale": {"domain": [-0.0615, 0.697], "nice": false, "zero": false},
 "axis": {"orient": "top", "values": [0, 0.2, 0.4, 0.6], "labels": false, "domain": true, "tickSize": -13, "title": null}},
"y": {"field": "H", "type": "quantitative", "scale": {"domain": [0, 80], "nice": false, "zero": false},
 "axis": {"orient": "right", "values": [0, 20, 40, 60, 80], "labels": false, "domain": true, "tickSize": -18, "title": null}}
}
},
{
"data": {"name": "amsu"},
"mark": {"type": "point", "opacity": 0},
"encoding": {
"x": {"field": "W", "type": "quantitative", "scale": {"domain": [-0.0615, 0.697], "nice": false, "zero": false},
 "axis": {"orient": "top", "values": [0.1, 0.3, 0.5], "labels": false, "domain": false, "tickSize": -7, "title": null}},
"y": {"field": "H", "type": "quantitative", "scale": {"domain": [0, 80], "nice": false, "zero": false},
 "axis": {"orient": "right", "values": [5, 10, 15, 25, 30, 35, 45, 50, 55, 65, 70, 75], "labels": false, "domain": false, "tickSize": -7.5, "title": null}}
}
}
],
"resolve": {"axis": {"x": "independent", "y": "independent"}}
}
],
"resolve": {"scale": {"color": "independent"}},
"config": {
"view": {"stroke": null},
"axis": {"grid": false, "labelFont": "DejaVu Sans", "labelFontWeight": "bold", "labelColor": "#000", "titleFont": "DejaVu Sans", "titleFontWeight": "bold", "titleColor": "#000", "domainColor": "#222", "domainWidth": 2, "tickColor": "#222", "tickWidth": 1.8, "labelFlush": false, "labelOverlap": false}
}
}
